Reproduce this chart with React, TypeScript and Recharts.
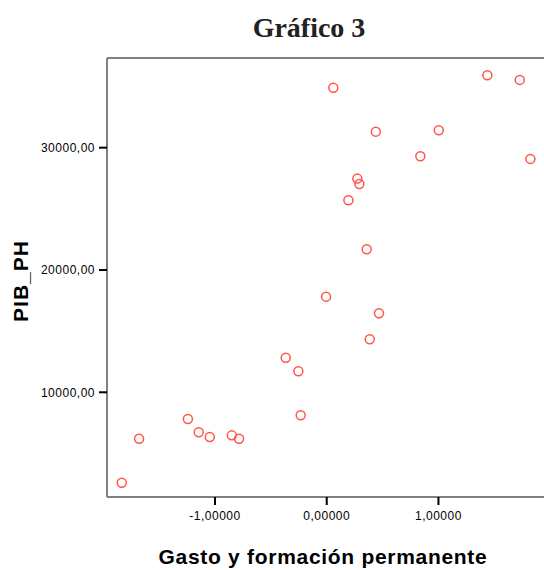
import React from 'react';
import { ScatterChart, Scatter, XAxis, YAxis, ReferenceLine } from 'recharts';

// gasto y formación permanente (standardised score) vs PIB per cápita
const gasto = [
  -1.835, -1.68, -1.243, -1.146, -1.047, -0.85, -0.785, -0.367, -0.254, -0.233,
  -0.006, 0.059, 0.194, 0.274, 0.292, 0.358, 0.385, 0.439, 0.468, 0.838,
  1.003, 1.438, 1.728, 1.823,
];
const pibPh = [
  2600, 6200, 7820, 6730, 6340, 6480, 6200, 12830, 11720, 8120,
  17820, 34900, 25700, 27470, 27030, 21690, 14330, 31310, 16460, 29300,
  31420, 35920, 35540, 29080,
];
const xTicks = [-1, 0, 1];
const yTicks = [10000, 20000, 30000];

const X_DOMAIN = [-1.967, 1.945];
const Y_DOMAIN = [1440, 37330];

const points = gasto.map((g, i) => ({ x: g, y: pibPh[i] }));

const fmtX = (v: number) => v.toFixed(5).replace('.', ',');
const fmtY = (v: number) => v.toFixed(2).replace('.', ',');

const tickStyle = { fontFamily: 'Liberation Sans, Arial, sans-serif', fontSize: 12, fill: '#000', letterSpacing: 0.5 };
const frame = { stroke: '#808080', strokeWidth: 2 };

const Ring = (props: any) => {
  const { cx, cy } = props;
  if (cx == null || cy == null) return null;
  return <circle cx={cx} cy={cy} r={4.5} fill="none" stroke="#ff5548" strokeWidth={1.5} />;
};

export default function App() {
  // pinned to the page corner so the plot runs right up to the window edge
  return (
    <div style={{ position: 'absolute', left: 0, top: 0, width: 544, height: 570, background: '#fff', overflow: 'hidden' }}>
      <div
        style={{
          position: 'absolute', left: 309, top: 28, transform: 'translate(-50%, -50%)',
          fontFamily: 'Liberation Serif, serif', fontWeight: 'bold', fontSize: 28, color: '#222',
          whiteSpace: 'nowrap', lineHeight: 1,
        }}
      >
        Gráfico 3
      </div>
      <ScatterChart width={544} height={570} margin={{ top: 58, right: 0, bottom: 0, left: 0 }}>
        <XAxis
          type="number"
          dataKey="x"
          domain={X_DOMAIN}
          ticks={xTicks}
          tickFormatter={fmtX}
          allowDataOverflow
          height={73}
          axisLine={frame}
          tickLine={{ stroke: '#000', strokeWidth: 2 }}
          tickSize={8}
          tickMargin={6}
          tick={tickStyle}
        />
        <YAxis
          type="number"
          dataKey="y"
          domain={Y_DOMAIN}
          ticks={yTicks}
          tickFormatter={fmtY}
          allowDataOverflow
          width={107}
          axisLine={frame}
          tickLine={{ stroke: '#000', strokeWidth: 2 }}
          tickSize={8}
          tickMargin={4}
          tick={tickStyle}
        />
        <ReferenceLine y={Y_DOMAIN[1]} stroke="#808080" strokeWidth={2} />
        <Scatter data={points} shape={Ring} isAnimationActive={false} />
      </ScatterChart>
      <div
        style={{
          position: 'absolute', left: 323, top: 556, transform: 'translate(-50%, -50%)',
          fontFamily: 'Liberation Sans, Arial, sans-serif', fontWeight: 'bold', fontSize: 21,
          letterSpacing: 0.7, color: '#000', whiteSpace: 'nowrap', lineHeight: 1,
        }}
      >
        Gasto y formación permanente
      </div>
      <div
        style={{
          position: 'absolute', left: 20, top: 281, transform: 'translate(-50%, -50%) rotate(-90deg)',
          fontFamily: 'Liberation Sans, Arial, sans-serif', fontWeight: 'bold', fontSize: 21,
          letterSpacing: 1, color: '#000', whiteSpace: 'nowrap', lineHeight: 1,
        }}
      >
        PIB_PH
      </div>
    </div>
  );
}
